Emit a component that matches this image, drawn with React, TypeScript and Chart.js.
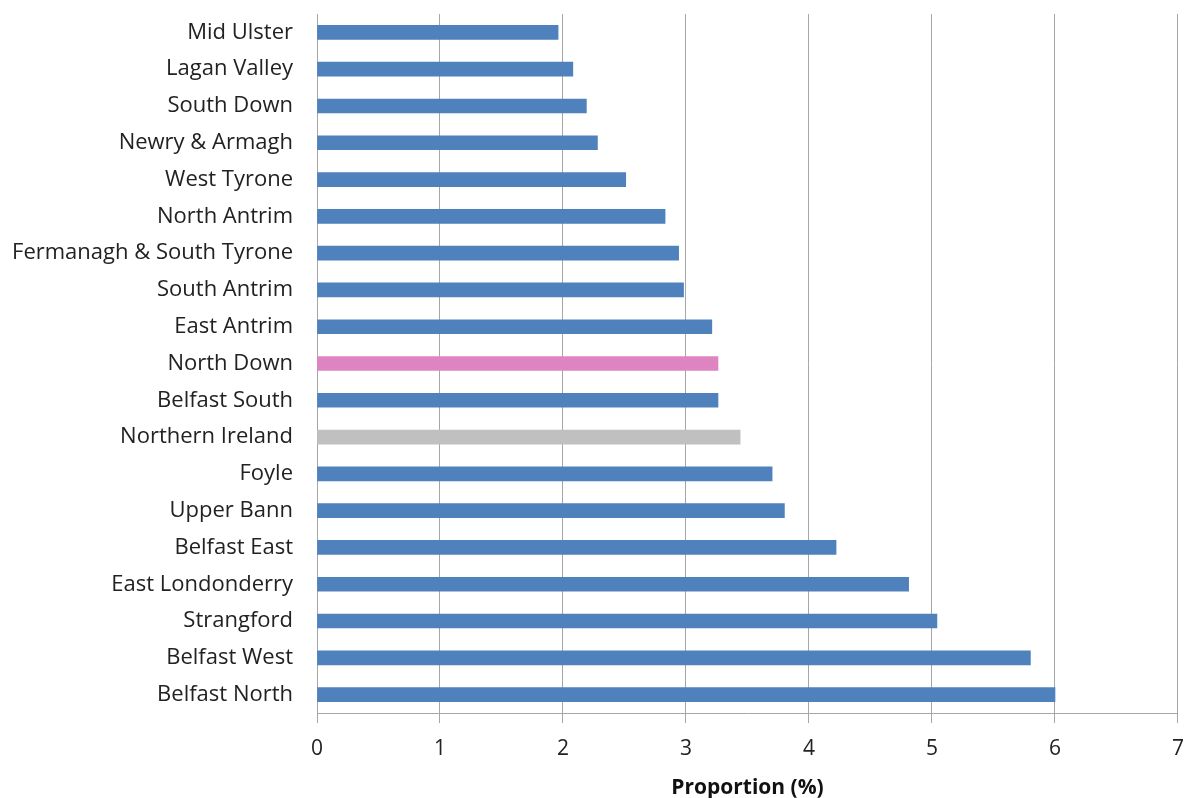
import React, { useEffect, useRef } from "react";
import { Chart, registerables } from "chart.js";

Chart.register(...registerables);

const categories = [
  "Mid Ulster",
  "Lagan Valley",
  "South Down",
  "Newry & Armagh",
  "West Tyrone",
  "North Antrim",
  "Fermanagh & South Tyrone",
  "South Antrim",
  "East Antrim",
  "North Down",
  "Belfast South",
  "Northern Ireland",
  "Foyle",
  "Upper Bann",
  "Belfast East",
  "East Londonderry",
  "Strangford",
  "Belfast West",
  "Belfast North",
];

const proportions = [
  1.96, 2.08, 2.19, 2.28, 2.51, 2.83, 2.94, 2.98, 3.21, 3.26, 3.26, 3.44, 3.7,
  3.8, 4.22, 4.81, 5.04, 5.8, 6.0,
];

const xTicks = [0, 1, 2, 3, 4, 5, 6, 7];

const BLUE = "#4F81BD";
const PINK = "#DE84C0";
const GREY = "#C0C0C0";

const barColors = categories.map((c) =>
  c === "North Down" ? PINK : c === "Northern Ireland" ? GREY : BLUE
);

export default function App() {
  const ref = useRef<HTMLCanvasElement | null>(null);

  useEffect(() => {
    if (!ref.current) return;
    const chart = new Chart(ref.current, {
      type: "bar",
      data: {
        labels: categories,
        datasets: [
          {
            data: proportions,
            backgroundColor: barColors,
            borderWidth: 0,
            barThickness: 14,
          },
        ],
      },
      options: {
        indexAxis: "y",
        animation: false,
        responsive: false,
        maintainAspectRatio: false,
        layout: { padding: { top: 14, right: 2, left: 0, bottom: 0 } },
        plugins: { legend: { display: false }, tooltip: { enabled: false } },
        scales: {
          x: {
            min: 0,
            max: 7,
            afterBuildTicks: (scale: any) => {
              scale.ticks = xTicks.map((v) => ({ value: v }));
            },
            afterFit: (scale: any) => {
              scale.height = 85;
            },
            grid: {
              color: "#A6A6A6",
              lineWidth: 1,
              tickLength: 10,
              drawTicks: true,
            },
            border: { display: true, color: "#A6A6A6", width: 1 },
            ticks: {
              color: "#222222",
              padding: 2,
              font: { family: "'Open Sans'", size: 21, lineHeight: 2.3 },
            },
            title: {
              display: true,
              text: "Proportion (%)",
              color: "#111111",
              padding: { top: 12, bottom: -3 },
              font: { family: "'Open Sans'", size: 21, weight: "bold" },
            },
          },
          y: {
            afterFit: (scale: any) => {
              scale.width = 317;
            },
            grid: { display: false, tickLength: 24 },
            border: { display: true, color: "#A6A6A6", width: 1 },
            ticks: {
              color: "#222222",
              padding: 0,
              autoSkip: false,
              font: { family: "'Open Sans'", size: 22 },
            },
          },
        },
      },
    });
    return () => chart.destroy();
  }, []);

  return (
    <div
      style={{
        position: "fixed",
        left: 0,
        top: 0,
        width: 1186,
        height: 798,
        background: "#ffffff",
      }}
    >
      <canvas ref={ref} width={1186} height={798} />
    </div>
  );
}
